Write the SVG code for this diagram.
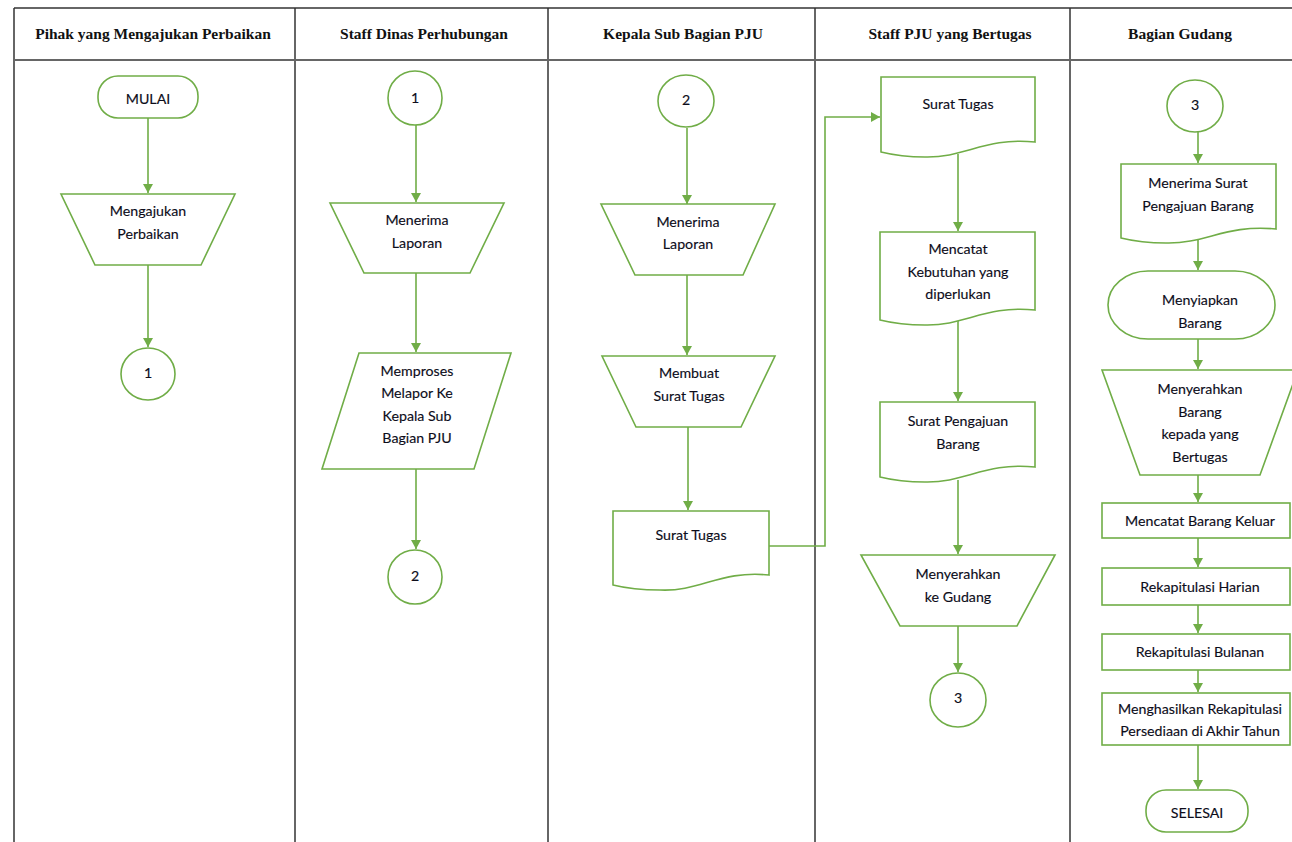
<svg xmlns="http://www.w3.org/2000/svg" width="1292" height="842" viewBox="0 0 1292 842">
<defs>
<style>
.grid{stroke:#333;stroke-width:1.5;fill:none}
.hdr{stroke:#666;stroke-width:2;fill:none}
.ht{font-family:"Liberation Serif",serif;font-weight:bold;font-size:15.5px;fill:#111;text-anchor:middle;dominant-baseline:central}
.n{fill:#fff;stroke:#70AD47;stroke-width:1.6}
.t{font-family:Lato,"Open Sans",sans-serif;font-size:14.2px;fill:#0d0d1a;text-anchor:middle;dominant-baseline:central;stroke:#0d0d1a;stroke-width:0.15}
.c{stroke:#70AD47;stroke-width:1.6;fill:none;marker-end:url(#ah)}
</style>
<marker id="ah" markerUnits="userSpaceOnUse" markerWidth="10" markerHeight="10" refX="9" refY="5" orient="auto">
<path d="M0,0 L9,5 L0,10 z" fill="#70AD47"/>
</marker>
</defs>
<rect width="1292" height="842" fill="#fff"/>
<g id="table">
<line class="grid" x1="14" y1="8" x2="1292" y2="8"/>
<line class="grid" x1="14" y1="8" x2="14" y2="842"/>
<line class="grid" x1="295" y1="8" x2="295" y2="842"/>
<line class="grid" x1="548" y1="8" x2="548" y2="842"/>
<line class="grid" x1="815" y1="8" x2="815" y2="842"/>
<line class="grid" x1="1070" y1="8" x2="1070" y2="842"/>
<line class="hdr" x1="14" y1="60" x2="1292" y2="60"/>
<text class="ht" x="153" y="33">Pihak yang Mengajukan Perbaikan</text>
<text class="ht" x="424" y="33">Staff Dinas Perhubungan</text>
<text class="ht" x="683" y="33">Kepala Sub Bagian PJU</text>
<text class="ht" x="950" y="33">Staff PJU yang Bertugas</text>
<text class="ht" x="1180" y="33">Bagian Gudang</text>
</g>
<g id="connectors">
<line class="c" x1="148" y1="118" x2="148" y2="193"/>
<line class="c" x1="148" y1="265" x2="148" y2="347"/>
<line class="c" x1="416" y1="125" x2="416" y2="202"/>
<line class="c" x1="416" y1="273" x2="416" y2="352"/>
<line class="c" x1="416" y1="469" x2="416" y2="549"/>
<line class="c" x1="687" y1="128" x2="687" y2="204"/>
<line class="c" x1="687" y1="275" x2="687" y2="355"/>
<line class="c" x1="688" y1="427" x2="688" y2="510"/>
<polyline class="c" points="769,546 825,546 825,117 880,117"/>
<line class="c" x1="958" y1="154" x2="958" y2="231"/>
<line class="c" x1="958" y1="320" x2="958" y2="401"/>
<line class="c" x1="958" y1="480" x2="958" y2="554"/>
<line class="c" x1="958" y1="626" x2="958" y2="672"/>
<line class="c" x1="1198" y1="132" x2="1198" y2="163"/>
<line class="c" x1="1198" y1="237" x2="1198" y2="270"/>
<line class="c" x1="1198" y1="339" x2="1198" y2="369"/>
<line class="c" x1="1198" y1="475" x2="1198" y2="502"/>
<line class="c" x1="1198" y1="538" x2="1198" y2="567"/>
<line class="c" x1="1198" y1="605" x2="1198" y2="633"/>
<line class="c" x1="1198" y1="670" x2="1198" y2="692"/>
<line class="c" x1="1198" y1="745" x2="1198" y2="789"/>
</g>
<g id="mulai">
<rect class="n" x="98" y="76" width="100" height="42" rx="20"/>
<text class="t" x="148" y="98">MULAI</text>
</g>
<g id="mengajukan">
<polygon class="n" points="61,194 235,194 201,265 95,265"/>
<text class="t" x="148" y="210">Mengajukan</text>
<text class="t" x="148" y="233">Perbaikan</text>
</g>
<g id="c1a">
<ellipse class="n" cx="148" cy="374" rx="27" ry="26"/>
<text class="t" x="148" y="372">1</text>
</g>
<g id="c1b">
<ellipse class="n" cx="415" cy="98" rx="27" ry="27"/>
<text class="t" x="415" y="97">1</text>
</g>
<g id="menerima1">
<polygon class="n" points="330,203 504,203 470,273 364,273"/>
<text class="t" x="417" y="219">Menerima</text>
<text class="t" x="417" y="242">Laporan</text>
</g>
<g id="memproses">
<polygon class="n" points="359,353 511,353 474,469 322,469"/>
<text class="t" x="417" y="370">Memproses</text>
<text class="t" x="417" y="392">Melapor Ke</text>
<text class="t" x="417" y="415">Kepala Sub</text>
<text class="t" x="417" y="437">Bagian PJU</text>
</g>
<g id="c2a">
<ellipse class="n" cx="415" cy="577" rx="27" ry="27"/>
<text class="t" x="415" y="575">2</text>
</g>
<g id="c2b">
<ellipse class="n" cx="686" cy="101" rx="28" ry="26"/>
<text class="t" x="686" y="99">2</text>
</g>
<g id="menerima2">
<polygon class="n" points="601,204 775,204 743,275 635,275"/>
<text class="t" x="688" y="221">Menerima</text>
<text class="t" x="688" y="243">Laporan</text>
</g>
<g id="membuat">
<polygon class="n" points="602,356 775,356 741,427 636,427"/>
<text class="t" x="689" y="372">Membuat</text>
<text class="t" x="689" y="395">Surat Tugas</text>
</g>
<g id="surattugas1">
<path class="n" d="M613,511 H769 V575 C720,570 700,592 660,590 C640,590 625,588 613,585 Z"/>
<text class="t" x="691" y="534">Surat Tugas</text>
</g>
<g id="surattugas2">
<path class="n" d="M881,77 H1035 V142 C985,137 965,158 925,157 C905,157 893,155 881,152 Z"/>
<text class="t" x="958" y="103">Surat Tugas</text>
</g>
<g id="mencatat">
<path class="n" d="M880,232 H1035 V310 C985,305 965,326 925,325 C905,325 892,323 880,320 Z"/>
<text class="t" x="958" y="248">Mencatat</text>
<text class="t" x="958" y="271">Kebutuhan yang</text>
<text class="t" x="958" y="293">diperlukan</text>
</g>
<g id="suratpengajuan">
<path class="n" d="M880,402 H1035 V467 C985,462 965,483 925,482 C905,482 892,480 880,477 Z"/>
<text class="t" x="958" y="420">Surat Pengajuan</text>
<text class="t" x="958" y="443">Barang</text>
</g>
<g id="menyerahkangudang">
<polygon class="n" points="861,555 1055,555 1017,626 900,626"/>
<text class="t" x="958" y="573">Menyerahkan</text>
<text class="t" x="958" y="596">ke Gudang</text>
</g>
<g id="c3a">
<ellipse class="n" cx="958" cy="700" rx="28" ry="27"/>
<text class="t" x="958" y="697">3</text>
</g>
<g id="c3b">
<ellipse class="n" cx="1195" cy="106" rx="28" ry="26"/>
<text class="t" x="1195" y="104">3</text>
</g>
<g id="menerimasurat">
<path class="n" d="M1121,164 H1276 V229 C1226,224 1206,244 1166,243 C1146,243 1133,241 1121,238 Z"/>
<text class="t" x="1198" y="182">Menerima Surat</text>
<text class="t" x="1198" y="205">Pengajuan Barang</text>
</g>
<g id="menyiapkan">
<rect class="n" x="1108" y="271" width="167" height="68" rx="40" ry="34"/>
<text class="t" x="1200" y="299">Menyiapkan</text>
<text class="t" x="1200" y="322">Barang</text>
</g>
<g id="menyerahkanbarang">
<polygon class="n" points="1102,370 1298,370 1260,475 1140,475"/>
<text class="t" x="1200" y="388">Menyerahkan</text>
<text class="t" x="1200" y="411">Barang</text>
<text class="t" x="1200" y="433">kepada yang</text>
<text class="t" x="1200" y="456">Bertugas</text>
</g>
<g id="mencatatkeluar">
<rect class="n" x="1102" y="503" width="188" height="35"/>
<text class="t" x="1200" y="520">Mencatat Barang Keluar</text>
</g>
<g id="harian">
<rect class="n" x="1102" y="568" width="188" height="37"/>
<text class="t" x="1200" y="586">Rekapitulasi Harian</text>
</g>
<g id="bulanan">
<rect class="n" x="1102" y="634" width="188" height="36"/>
<text class="t" x="1200" y="651">Rekapitulasi Bulanan</text>
</g>
<g id="tahunan">
<rect class="n" x="1102" y="693" width="188" height="52"/>
<text class="t" x="1200" y="708">Menghasilkan Rekapitulasi</text>
<text class="t" x="1200" y="730">Persediaan di Akhir Tahun</text>
</g>
<g id="selesai">
<rect class="n" x="1146" y="790" width="102" height="42" rx="20"/>
<text class="t" x="1197" y="812">SELESAI</text>
</g>
</svg>
